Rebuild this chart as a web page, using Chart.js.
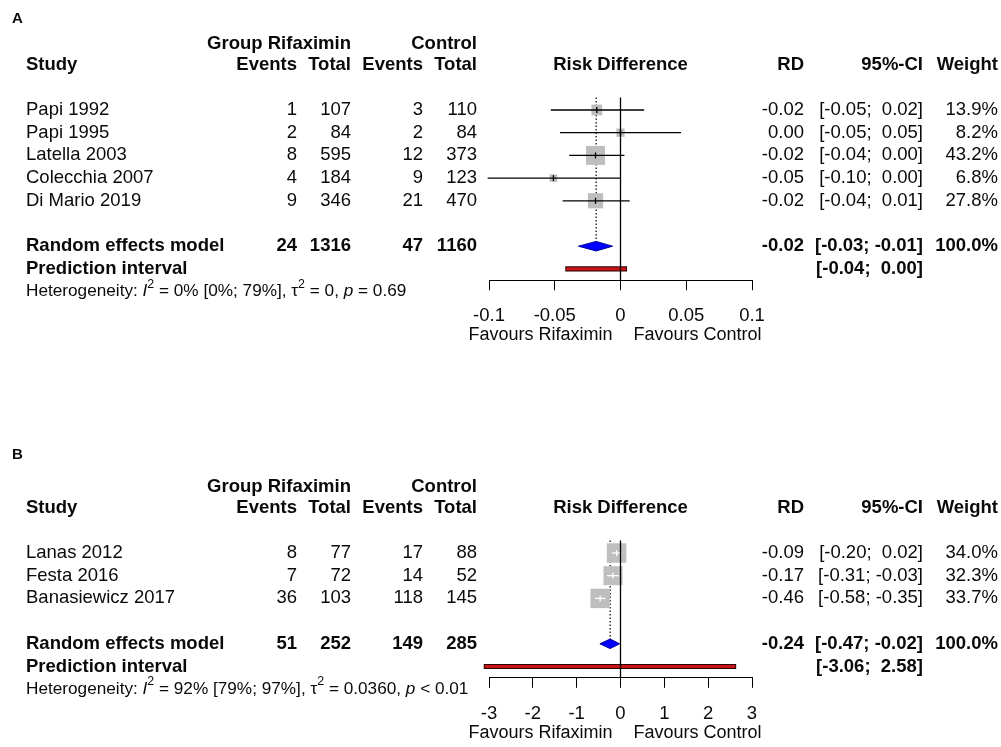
<!DOCTYPE html>
<html>
<head>
<meta charset="utf-8">
<script src="https://cdn.jsdelivr.net/npm/chart.js@4.4.1/dist/chart.umd.min.js"></script>
<style>
    html, body { margin: 0; padding: 0; background: #fff; }
    #wrap { position: relative; width: 1001px; height: 747px; }
    canvas { position: absolute; left: 0; }
</style>
</head>
<body>
<div id="wrap">
    <canvas id="chartA" width="1001" height="443" style="top:0;width:1001px;height:443px"></canvas>
    <canvas id="chartB" width="1001" height="304" style="top:443px;width:1001px;height:304px"></canvas>
</div>
<script>
// ---- Panel A data ----
const studiesA = ['Papi 1992', 'Papi 1995', 'Latella 2003', 'Colecchia 2007', 'Di Mario 2019'];
const rifEventsA = [1, 2, 8, 4, 9];
const rifTotalA = [107, 84, 595, 184, 346];
const ctlEventsA = [3, 2, 12, 9, 21];
const ctlTotalA = [110, 84, 373, 123, 470];
const estA = [-0.018, 0.0, -0.019, -0.051, -0.019];
const loA = [-0.053, -0.046, -0.039, -0.101, -0.044];
const hiA = [0.018, 0.046, 0.003, 0.000, 0.007];
const weightA = [13.9, 8.2, 43.2, 6.8, 27.8];
const rdTextA = ['-0.02', '0.00', '-0.02', '-0.05', '-0.02'];
const ciTextA = ['[-0.05;  0.02]', '[-0.05;  0.05]', '[-0.04;  0.00]', '[-0.10;  0.00]', '[-0.04;  0.01]'];
const pooledA = [-0.0185, -0.032, -0.006];   // estimate, lower, upper
const predictA = [-0.040, 0.003];
const pooledRowA = ['24', '1316', '47', '1160', '-0.02', '[-0.03; -0.01]', '100.0%'];
const predTextA = '[-0.04;  0.00]';
const hetA = [['Heterogeneity: ', ''], ['I', 'italic'], ['2', 'sup'], [' = 0% [0%; 79%], ', ''], ['\u03c4', ''], ['2', 'sup'], [' = 0, ', ''], ['p', 'italic'], [' = 0.69', '']];
const ticksA = [-0.1, -0.05, 0, 0.05, 0.1];

// ---- Panel B data ----
const studiesB = ['Lanas 2012', 'Festa 2016', 'Banasiewicz 2017'];
const rifEventsB = [8, 7, 36];
const rifTotalB = [77, 72, 103];
const ctlEventsB = [17, 14, 118];
const ctlTotalB = [88, 52, 145];
const estB = [-0.089, -0.172, -0.464];
const loB = [-0.20, -0.31, -0.58];
const hiB = [0.02, -0.03, -0.35];
const weightB = [34.0, 32.3, 33.7];
const rdTextB = ['-0.09', '-0.17', '-0.46'];
const ciTextB = ['[-0.20;  0.02]', '[-0.31; -0.03]', '[-0.58; -0.35]'];
const pooledB = [-0.236, -0.47, -0.02];
const predictB = [-3.06, 2.58];
const pooledRowB = ['51', '252', '149', '285', '-0.24', '[-0.47; -0.02]', '100.0%'];
const predTextB = '[-3.06;  2.58]';
const hetB = [['Heterogeneity: ', ''], ['I', 'italic'], ['2', 'sup'], [' = 92% [79%; 97%], ', ''], ['\u03c4', ''], ['2', 'sup'], [' = 0.0360, ', ''], ['p', 'italic'], [' < 0.01', '']];
const ticksB = [-3, -2, -1, 0, 1, 2, 3];

const FONT = "'Liberation Sans', Arial, sans-serif";
const TXT = '#0a0a0a';
const ROW_PX = 22.7;
const ROW0 = 110;      // pixel of first study row inside each canvas
const Y_TOP = -0.55;   // top of the reference lines, in rows
const AXIS_H = 60;
const PLOT_L = 489, PLOT_R = 752;
const COL = { study: 26, rifEv: 297, rifTot: 351, ctlEv: 423, ctlTot: 477, rd: 804, ci: 923, weight: 998 };

function txt(ctx, s, x, y, align, bold, size) {
    ctx.font = (bold ? 'bold ' : '') + (size || 18.5) + 'px ' + FONT;
    ctx.textAlign = align;
    ctx.textBaseline = 'middle';
    ctx.fillStyle = TXT;
    ctx.fillText(s, x, y);
}

function drawRich(ctx, parts, x, y, size) {
    let cx = x;
    parts.forEach(([s, style]) => {
        let f = size, dy = 0, st = '';
        if (style === 'sup') { f = size * 0.72; dy = -size * 0.42; }
        if (style === 'italic') st = 'italic ';
        ctx.font = st + f + 'px ' + FONT;
        ctx.textAlign = 'left';
        ctx.textBaseline = 'middle';
        ctx.fillStyle = TXT;
        ctx.fillText(s, cx, y + dy);
        cx += ctx.measureText(s).width;
    });
}

function makePanel(id, p) {
    const n = p.studies.length;
    const randRow = n + 1, predRow = n + 2, hetRow = n + 3, axisRow = n + 2.5;
    const canvas = document.getElementById(id);
    const H = canvas.height;
    const topPx = ROW0 + Y_TOP * ROW_PX;
    const bottomPx = ROW0 + axisRow * ROW_PX;
    const xMin = p.ticks[0], xMax = p.ticks[p.ticks.length - 1];
    const unitPx = (PLOT_R - PLOT_L) / (xMax - xMin);

    const wMax = Math.max(...p.weight);
    const sides = p.weight.map(w => p.maxSide * Math.sqrt(w / wMax));
    const inside = p.lo.map((lo, i) => (p.hi[i] - lo) * unitPx < sides[i]);

    const datasets = [];
    // dotted line at pooled estimate
    datasets.push({
        data: [{ x: p.pooled[0], y: Y_TOP }, { x: p.pooled[0], y: randRow - 0.21 }],
        showLine: true, borderColor: '#000', borderWidth: 1.2, borderDash: [1.5, 2],
        pointRadius: 0, order: 8
    });
    // squares
    datasets.push({
        data: p.est.map((v, i) => ({ x: v, y: i })),
        pointStyle: 'rect', pointRadius: sides.map(s => s / (2 * Math.SQRT1_2)),
        pointBackgroundColor: '#bebebe', pointBorderWidth: 0, order: 7
    });
    // confidence intervals
    p.lo.forEach((lo, i) => {
        datasets.push({
            data: [{ x: lo, y: i }, { x: p.hi[i], y: i }],
            showLine: true, borderColor: inside[i] ? '#fff' : '#000', borderWidth: 1.3,
            pointRadius: 0, order: 6
        });
    });
    // estimate marks
    datasets.push({
        data: p.est.map((v, i) => ({ x: v, y: i })),
        pointStyle: 'line', pointRotation: 90, pointRadius: 3,
        pointBorderColor: inside.map(f => f ? '#fff' : '#000'), pointBorderWidth: 1.3, order: 5
    });
    // diamond
    datasets.push({
        data: [
            { x: p.pooled[1], y: randRow }, { x: p.pooled[0], y: randRow - 0.21 },
            { x: p.pooled[2], y: randRow }, { x: p.pooled[0], y: randRow + 0.21 },
            { x: p.pooled[1], y: randRow }
        ],
        showLine: true, fill: 'shape', backgroundColor: '#0000ff', borderColor: '#0000a0',
        borderWidth: 1, pointRadius: 0, tension: 0, order: 4
    });
    // prediction interval: dark outline line under a red line
    const predLine = [{ x: p.predict[0], y: predRow }, { x: p.predict[1], y: predRow }];
    datasets.push({
        data: predLine, showLine: true, borderColor: '#2a0000', borderWidth: 5.2,
        borderCapStyle: 'square', pointRadius: 0, order: 3
    });
    datasets.push({
        data: predLine, showLine: true, borderColor: '#c81414', borderWidth: 3.2,
        borderCapStyle: 'square', pointRadius: 0, order: 2
    });
    // line of no effect
    datasets.push({
        data: [{ x: 0, y: Y_TOP }, { x: 0, y: axisRow }],
        showLine: true, borderColor: '#000', borderWidth: 1.3, pointRadius: 0, order: 1
    });
    datasets.forEach(d => { d.clip = false; });

    const tablePlugin = {
        id: 'forestTable',
        afterDraw(chart) {
            const ctx = chart.ctx;
            const ys = chart.scales.y;
            const xs = chart.scales.x;
            const ry = r => ys.getPixelForValue(r);
            ctx.save();
            txt(ctx, p.letter, 12, p.letterY, 'left', true, 15);
            // headers
            txt(ctx, 'Group Rifaximin', COL.rifTot, ry(-2.93), 'right', true);
            txt(ctx, 'Control', COL.ctlTot, ry(-2.93), 'right', true);
            const h = ry(-2);
            txt(ctx, 'Study', COL.study, h, 'left', true);
            txt(ctx, 'Events', COL.rifEv, h, 'right', true);
            txt(ctx, 'Total', COL.rifTot, h, 'right', true);
            txt(ctx, 'Events', COL.ctlEv, h, 'right', true);
            txt(ctx, 'Total', COL.ctlTot, h, 'right', true);
            txt(ctx, 'Risk Difference', (chart.chartArea.left + chart.chartArea.right) / 2, h, 'center', true);
            txt(ctx, 'RD', COL.rd, h, 'right', true);
            txt(ctx, '95%-CI', COL.ci, h, 'right', true);
            txt(ctx, 'Weight', COL.weight, h, 'right', true);
            // study rows
            p.studies.forEach((s, i) => {
                const y = ry(i);
                txt(ctx, s, COL.study, y, 'left');
                txt(ctx, String(p.rifEv[i]), COL.rifEv, y, 'right');
                txt(ctx, String(p.rifTot[i]), COL.rifTot, y, 'right');
                txt(ctx, String(p.ctlEv[i]), COL.ctlEv, y, 'right');
                txt(ctx, String(p.ctlTot[i]), COL.ctlTot, y, 'right');
                txt(ctx, p.rdText[i], COL.rd, y, 'right');
                txt(ctx, p.ciText[i], COL.ci, y, 'right');
                txt(ctx, p.weight[i].toFixed(1) + '%', COL.weight, y, 'right');
            });
            // pooled
            const yr = ry(randRow);
            const pr = p.pooledRow;
            txt(ctx, 'Random effects model', COL.study, yr, 'left', true);
            txt(ctx, pr[0], COL.rifEv, yr, 'right', true);
            txt(ctx, pr[1], COL.rifTot, yr, 'right', true);
            txt(ctx, pr[2], COL.ctlEv, yr, 'right', true);
            txt(ctx, pr[3], COL.ctlTot, yr, 'right', true);
            txt(ctx, pr[4], COL.rd, yr, 'right', true);
            txt(ctx, pr[5], COL.ci, yr, 'right', true);
            txt(ctx, pr[6], COL.weight, yr, 'right', true);
            const yp = ry(predRow);
            txt(ctx, 'Prediction interval', COL.study, yp, 'left', true);
            txt(ctx, p.predText, COL.ci, yp, 'right', true);
            drawRich(ctx, p.het, COL.study, ry(hetRow), 17.2);
            // favours labels
            const x0 = xs.getPixelForValue(0);
            const yf = chart.chartArea.bottom + 55;
            txt(ctx, 'Favours Rifaximin', x0 - 8, yf, 'right', false, 18);
            txt(ctx, 'Favours Control', x0 + 13, yf, 'left', false, 18);
            ctx.restore();
        }
    };

    return new Chart(canvas, {
        type: 'scatter',
        data: { datasets },
        options: {
            responsive: false,
            animation: false,
            events: [],
            layout: {
                autoPadding: false,
                padding: { left: PLOT_L, right: 1001 - PLOT_R, top: topPx, bottom: H - bottomPx - AXIS_H }
            },
            plugins: { legend: { display: false }, tooltip: { enabled: false } },
            scales: {
                x: {
                    type: 'linear', min: xMin, max: xMax,
                    afterBuildTicks: s => { s.ticks = p.ticks.map(v => ({ value: v })); },
                    afterFit: s => { s.height = AXIS_H; },
                    grid: { display: true, drawOnChartArea: false, drawTicks: true, tickLength: 10, color: '#000', lineWidth: 1 },
                    border: { display: true, color: '#000', width: 1 },
                    ticks: {
                        color: TXT, padding: 15, maxRotation: 0, autoSkip: false,
                        font: { family: FONT, size: 18.5 },
                        callback: v => String(v)
                    }
                },
                y: { type: 'linear', reverse: true, min: Y_TOP, max: axisRow, display: false }
            }
        },
        plugins: [tablePlugin]
    });
}

makePanel('chartA', {
    letter: 'A', letterY: 18.5, maxSide: 19,
    studies: studiesA, rifEv: rifEventsA, rifTot: rifTotalA, ctlEv: ctlEventsA, ctlTot: ctlTotalA,
    est: estA, lo: loA, hi: hiA, weight: weightA, rdText: rdTextA, ciText: ciTextA,
    pooled: pooledA, predict: predictA, pooledRow: pooledRowA, predText: predTextA, het: hetA, ticks: ticksA
});
makePanel('chartB', {
    letter: 'B', letterY: 12, maxSide: 19.5,
    studies: studiesB, rifEv: rifEventsB, rifTot: rifTotalB, ctlEv: ctlEventsB, ctlTot: ctlTotalB,
    est: estB, lo: loB, hi: hiB, weight: weightB, rdText: rdTextB, ciText: ciTextB,
    pooled: pooledB, predict: predictB, pooledRow: pooledRowB, predText: predTextB, het: hetB, ticks: ticksB
});
</script>
</body>
</html>
